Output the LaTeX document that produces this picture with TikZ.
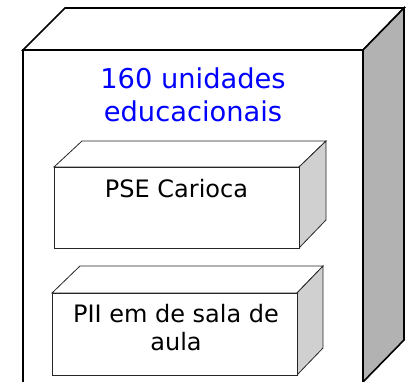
\documentclass[tikz,border=0pt]{standalone}
\usepackage{fontspec}
\setmainfont{DejaVu Sans}
\definecolor{biggray}{RGB}{178,178,178}
\definecolor{smallgray}{RGB}{208,208,208}
\definecolor{txtblue}{RGB}{0,0,255}
\tikzset{
  bigedge/.style={draw=black, line width=1.6pt, line join=miter},
  smalledge/.style={draw=black!85, line width=0.8pt, line join=miter},
  label/.style={align=center, inner sep=0pt}
}
\begin{document}
\begin{tikzpicture}[x=1pt,y=-1pt]
\useasboundingbox (0,0) rectangle (406,381);
\clip (0,0) rectangle (406,381);
% big box
\path[bigedge, fill=white] (23,50) -- (65,8) -- (404,8) -- (363,50) -- cycle;
\path[bigedge, fill=biggray] (363,50) -- (404,8) -- (404,340) -- (363,382) -- cycle;
\path[bigedge, fill=white] (23,50) rectangle (363,400);
\node[label, text=txtblue, font=\fontsize{27.3}{33}\selectfont] (title) at (193,95) {160 unidades\\educacionais};
% box 1
\path[smalledge, fill=white] (54,167) -- (82,141) -- (326,141) -- (299,167) -- cycle;
\path[smalledge, fill=smallgray] (299,167) -- (326,141) -- (326,220) -- (299,248) -- cycle;
\path[smalledge, fill=white] (54,167) rectangle (299,248);
\node[label, anchor=base, font=\fontsize{24}{28}\selectfont] (pse) at (176.5,197) {PSE Carioca};
% box 2
\path[smalledge, fill=white] (52,293) -- (80,266) -- (323,266) -- (297,293) -- cycle;
\path[smalledge, fill=smallgray] (297,293) -- (323,266) -- (323,348) -- (297,375) -- cycle;
\path[smalledge, fill=white] (52,293) rectangle (297,375);
\node[label, font=\fontsize{24}{28}\selectfont] (pii) at (176,328) {PII em de sala de\\aula};
\end{tikzpicture}
\end{document}
